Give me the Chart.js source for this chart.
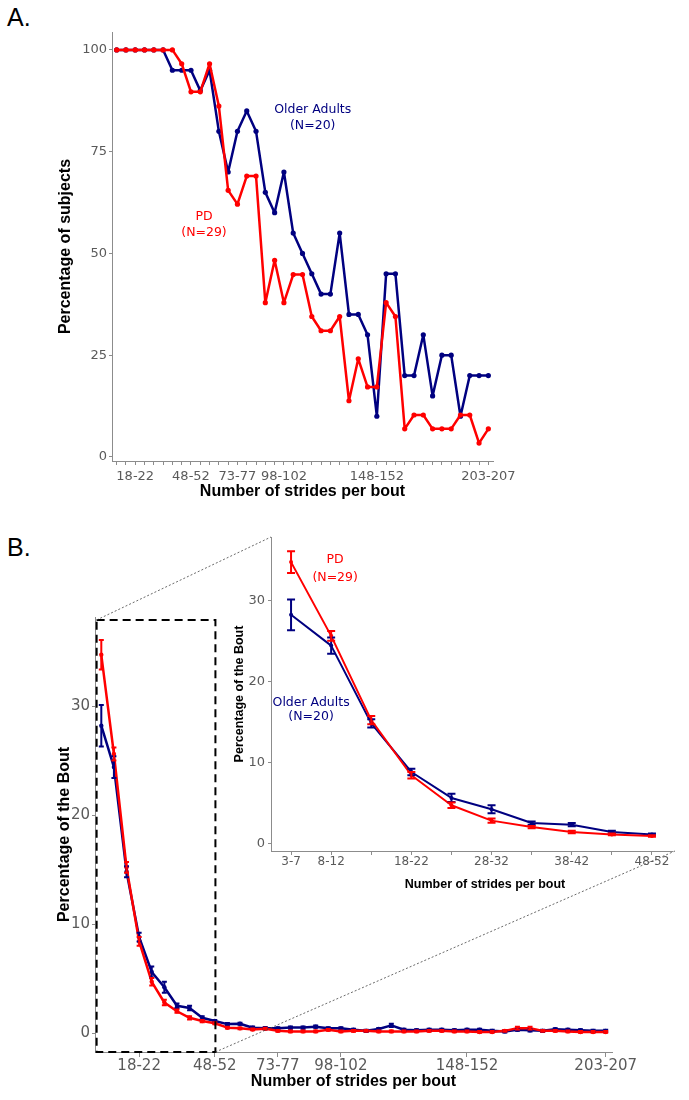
<!DOCTYPE html>
<html>
<head>
<meta charset="utf-8">
<script src="https://cdn.jsdelivr.net/npm/chart.js@4.4.0/dist/chart.umd.min.js"></script>
<style>
  body { margin: 0; background: #fff; }
  #page { position: relative; width: 689px; height: 1100px; overflow: hidden; }
  #page canvas, .panel { position: absolute; }
  .panel { font-family: "Liberation Sans", Arial, sans-serif; font-size: 25px; color: #000; }
</style>
</head>
<body>
<div id="page">
  <div class="panel" style="left:7px;top:3px">A.</div>
  <div class="panel" style="left:7px;top:533px">B.</div>
  <canvas id="chartA" width="689" height="520" style="left:0;top:0"></canvas>
  <canvas id="chartB" width="689" height="570" style="left:0;top:530px"></canvas>
  <canvas id="links" width="689" height="1100" style="left:0;top:0"></canvas>
  <canvas id="chartInset" width="509" height="380" style="left:180px;top:520px"></canvas>
</div>
<script>
// --- data ---
const bins = ['3-7','8-12','13-17','18-22','23-27','28-32','33-37','38-42','43-47','48-52',
  '53-57','58-62','63-67','68-72','73-77','78-82','83-87','88-92','93-97','98-102',
  '103-107','108-112','113-117','118-122','123-127','128-132','133-137','138-142','143-147','148-152',
  '153-157','158-162','163-167','168-172','173-177','178-182','183-187','188-192','193-197','198-202','203-207'];

// panel A: percentage of subjects
const olderA = [100,100,100,100,100,100,95,95,95,90,95,80,70,80,85,80,65,60,70,55,50,
  45,40,40,55,35,35,30,10,45,45,20,20,30,15,25,25,10,20,20,20];
const pdA = [100,100,100,100,100,100,100,96.6,89.7,89.7,96.6,86.2,65.5,62.1,69.0,69.0,37.9,48.3,37.9,44.8,44.8,
  34.5,31.0,31.0,34.5,13.8,24.1,17.2,17.2,37.9,34.5,6.9,10.3,10.3,6.9,6.9,6.9,10.3,10.3,3.4,6.9];
const ticksA = ['', '', '18-22', '', '', '', '', '', '48-52', '', '', '', '', '73-77', '', '', '', '',
  '98-102', '', '', '', '', '', '', '', '', '', '148-152', '', '', '', '', '', '', '', '', '', '', '', '203-207'];
const yTicksA = [0, 25, 50, 75, 100];

// panel B: percentage of the bout (mean and SE)
const olderB = [28.2,24.4,14.8,8.8,5.6,4.2,2.5,2.3,1.4,1.1,0.82,0.85,0.49,0.45,0.43,0.5,0.5,0.58,0.43,0.43,
  0.3,0.2,0.37,0.7,0.3,0.25,0.3,0.3,0.25,0.3,0.3,0.2,0.15,0.3,0.25,0.2,0.35,0.3,0.25,0.2,0.2];
const olderSE = [1.9,1.0,0.5,0.4,0.5,0.5,0.2,0.2,0.15,0.1,0.1,0.1,0.1,0.1,0.1,0.1,0.1,0.1,0.1,0.1,
  0.1,0.1,0.1,0.15,0.1,0.1,0.1,0.1,0.1,0.1,0.1,0.1,0.1,0.1,0.1,0.1,0.1,0.1,0.1,0.1,0.1];
const pdB = [34.7,25.6,15.2,8.4,4.7,2.8,2.0,1.4,1.1,0.9,0.49,0.43,0.33,0.4,0.2,0.15,0.15,0.15,0.3,0.15,
  0.2,0.2,0.15,0.15,0.15,0.15,0.2,0.2,0.15,0.15,0.1,0.1,0.2,0.45,0.45,0.2,0.2,0.15,0.1,0.1,0.1];
const pdSE = [1.35,0.6,0.5,0.4,0.35,0.25,0.15,0.15,0.1,0.1,0.08,0.08,0.08,0.08,0.08,0.08,0.08,0.08,0.08,0.08,
  0.08,0.08,0.08,0.08,0.08,0.08,0.08,0.08,0.08,0.08,0.08,0.08,0.08,0.12,0.12,0.08,0.08,0.08,0.08,0.08,0.08];
const ticksB = ['18-22','48-52','73-77','98-102','148-152','203-207'];
const yTicksB = [0, 10, 20, 30];
const insetCount = 10;   // inset zooms on 3-7 .. 48-52
const ticksInset = ['3-7','8-12','18-22','28-32','38-42','48-52'];

// --- styles ---
const navy = '#000080';
const red = '#ff0000';
const axisGrey = '#8c8c8c';
const tickGrey = '#5a5a5a';
const titleFamily = '"Liberation Sans", Arial, sans-serif';
Chart.defaults.font.family = '"DejaVu Sans", Verdana, sans-serif';
Chart.defaults.color = tickGrey;

// error bars drawn from dataset.errors through the y scale
const errorBars = {
  id: 'errorBars',
  afterDatasetsDraw(chart, args, opts) {
    const ctx = chart.ctx, y = chart.scales.y;
    for (let di = chart.data.datasets.length - 1; di >= 0; di--) {
      const ds = chart.data.datasets[di];
      if (!ds.errors) continue;
      const meta = chart.getDatasetMeta(di);
      ctx.save();
      ctx.strokeStyle = ds.borderColor;
      ctx.lineWidth = opts.width || 2;
      meta.data.forEach((pt, i) => {
        const top = y.getPixelForValue(ds.data[i] + ds.errors[i]);
        const bot = y.getPixelForValue(ds.data[i] - ds.errors[i]);
        ctx.beginPath();
        ctx.moveTo(pt.x, top); ctx.lineTo(pt.x, bot);
        ctx.moveTo(pt.x - opts.cap, top); ctx.lineTo(pt.x + opts.cap, top);
        ctx.moveTo(pt.x - opts.cap, bot); ctx.lineTo(pt.x + opts.cap, bot);
        ctx.stroke();
      });
      ctx.restore();
    }
  }
};

// group labels placed in data coordinates, plus optional free texts
const notes = {
  id: 'notes',
  afterDraw(chart, args, opts) {
    const ctx = chart.ctx;
    ctx.save();
    ctx.textAlign = 'center';
    ctx.textBaseline = 'middle';
    (opts.items || []).forEach(n => {
      ctx.fillStyle = n.color;
      ctx.font = n.font || opts.font;
      const x = n.px !== undefined ? n.px : chart.scales.x.getPixelForValue(n.x);
      const y = n.py !== undefined ? n.py : chart.scales.y.getPixelForValue(n.y);
      ctx.fillText(n.text, x, y);
    });
    ctx.restore();
  }
};

function lineSet(label, data, color, width, radius, errors) {
  return {
    label: label, data: data, errors: errors,
    borderColor: color, backgroundColor: color,
    borderWidth: width, borderJoinStyle: 'round', borderCapStyle: 'round',
    pointRadius: radius, pointBorderWidth: 0,
    pointHoverRadius: radius, tension: 0
  };
}

function xAxis(o) {
  return {
    type: 'category', offset: true,
    grid: { display: true, drawOnChartArea: false, drawTicks: true, tickLength: o.tickLength,
            offset: false, color: axisGrey, tickColor: o.tickColor || axisGrey },
    border: { display: true, color: axisGrey, width: 1 },
    ticks: { autoSkip: false, maxRotation: 0, minRotation: 0, padding: o.padding,
             color: tickGrey, font: { size: o.size }, callback: o.callback },
    title: o.title ? { display: true, text: 'Number of strides per bout', color: '#000',
             font: { family: titleFamily, size: o.titleSize, weight: 'bold' },
             padding: { top: 0, bottom: o.titlePad } } : { display: false },
    afterFit: s => { s.height = o.height; }
  };
}

function yAxis(o) {
  return {
    min: o.min, max: o.max,
    grid: { drawOnChartArea: false, drawTicks: true, tickLength: 3, color: axisGrey },
    border: { display: true, color: axisGrey, width: 1 },
    ticks: { padding: o.padding, color: tickGrey, font: { size: o.size } },
    afterBuildTicks: s => { s.ticks = o.ticks.map(v => ({ value: v })); },
    title: { display: true, text: o.text, color: '#000',
             font: { family: titleFamily, size: o.titleSize, weight: 'bold' },
             padding: { top: o.titlePad, bottom: 0 } },
    afterFit: s => { s.width = o.width; }
  };
}

// --- panel A ---
const chartA = new Chart(document.getElementById('chartA'), {
  type: 'line',
  data: {
    labels: bins,
    datasets: [
      lineSet('PD', pdA, red, 2.5, 2.6),
      lineSet('Older Adults', olderA, navy, 2.5, 2.6)
    ]
  },
  options: {
    responsive: false, animation: false,
    layout: { padding: { left: 0, top: 32, right: 196, bottom: 0 } },
    plugins: {
      legend: { display: false }, tooltip: { enabled: false },
      notes: {
        font: '12.5px "DejaVu Sans", Verdana, sans-serif',
        items: [
          { text: 'Older Adults', color: navy, x: 21.1, y: 85.4 },
          { text: '(N=20)', color: navy, x: 21.1, y: 81.3 },
          { text: 'PD', color: red, x: 9.4, y: 59.0 },
          { text: '(N=29)', color: red, x: 9.4, y: 55.0 }
        ]
      }
    },
    scales: {
      x: xAxis({ tickLength: 4, padding: 4, size: 13, callback: (v, i) => ticksA[i],
                 title: true, titleSize: 16, titlePad: 19, height: 59 }),
      y: yAxis({ min: -1, max: 104.4, ticks: yTicksA, padding: 2, size: 13,
                 text: 'Percentage of subjects', titleSize: 16, titlePad: 56.4, width: 112 })
    }
  },
  plugins: [notes]
});

// --- panel B, full range ---
const chartB = new Chart(document.getElementById('chartB'), {
  type: 'line',
  data: {
    labels: bins,
    datasets: [
      lineSet('PD', pdB, red, 2.5, 2.2, pdSE),
      lineSet('Older Adults', olderB, navy, 2.5, 2.2, olderSE)
    ]
  },
  options: {
    responsive: false, animation: false,
    layout: { padding: { left: 0, top: 87, right: 77, bottom: 0 } },
    plugins: { legend: { display: false }, tooltip: { enabled: false }, errorBars: { cap: 2.5, width: 2 } },
    scales: {
      x: xAxis({ tickLength: 5, padding: 0, size: 15,
                 tickColor: ctx => ticksB.includes(bins[ctx.index]) ? axisGrey : 'rgba(0,0,0,0)',
                 callback: (v, i) => ticksB.includes(bins[i]) ? bins[i] : '',
                 title: true, titleSize: 16, titlePad: 8.4, height: 48 }),
      y: yAxis({ min: -1.74, max: 38.17, ticks: yTicksB, padding: 2, size: 15,
                 text: 'Percentage of the Bout', titleSize: 16, titlePad: 55.4, width: 95 })
    }
  },
  plugins: [errorBars]
});

// --- panel B, inset ---
const chartInset = new Chart(document.getElementById('chartInset'), {
  type: 'line',
  data: {
    labels: bins.slice(0, insetCount),
    datasets: [
      lineSet('PD', pdB.slice(0, insetCount), red, 2, 2, pdSE.slice(0, insetCount)),
      lineSet('Older Adults', olderB.slice(0, insetCount), navy, 2, 2, olderSE.slice(0, insetCount))
    ]
  },
  options: {
    responsive: false, animation: false,
    layout: { padding: { left: 0, top: 17, right: 17, bottom: 0 } },
    plugins: {
      legend: { display: false }, tooltip: { enabled: false },
      errorBars: { cap: 4, width: 2 },
      notes: {
        font: '12.5px "DejaVu Sans", Verdana, sans-serif',
        items: [
          { text: 'PD', color: red, x: 1.1, y: 35.0 },
          { text: '(N=29)', color: red, x: 1.1, y: 32.8 },
          { text: 'Older Adults', color: navy, x: 0.5, y: 17.4 },
          { text: '(N=20)', color: navy, x: 0.5, y: 15.6 },
          { text: 'Number of strides per bout', color: '#000', px: 305, py: 365,
            font: 'bold 12.5px "Liberation Sans", Arial, sans-serif' }
        ]
      }
    },
    scales: {
      x: xAxis({ tickLength: 4, padding: 0, size: 12,
                 callback: (v, i) => ticksInset.includes(bins[i]) ? bins[i] : '',
                 title: false, height: 49 }),
      y: yAxis({ min: -0.95, max: 37.8, ticks: yTicksB, padding: 3, size: 13,
                 text: 'Percentage of the Bout', titleSize: 12.5, titlePad: 52.5, width: 91 })
    }
  },
  plugins: [errorBars, notes]
});

// --- zoom box and connector lines ---
function drawLinks() {
  const ctx = document.getElementById('links').getContext('2d');
  const bx = chartB.scales.x, by = chartB.scales.y;
  const topB = 530, insetLeft = 180, insetTop = 520;
  const step = bx.getPixelForValue(1) - bx.getPixelForValue(0);
  const left = bx.getPixelForValue(0) - 0.37 * step;
  const right = bx.getPixelForValue(insetCount - 1) + 0.05 * step;
  const top = by.getPixelForValue(37.9) + topB;
  const bottom = chartB.chartArea.bottom + topB;
  const ia = chartInset.chartArea;

  ctx.save();
  ctx.strokeStyle = '#000';
  ctx.lineWidth = 2;
  ctx.setLineDash([8, 5]);
  ctx.strokeRect(left, top, right - left, bottom - top);

  ctx.strokeStyle = '#444';
  ctx.lineWidth = 0.8;
  ctx.setLineDash([2, 2]);
  ctx.beginPath();
  ctx.moveTo(left, top);
  ctx.lineTo(ia.left + insetLeft, ia.top + insetTop);
  ctx.moveTo(right, bottom);
  ctx.lineTo(ia.right + insetLeft + 3, ia.bottom + insetTop);
  ctx.stroke();
  ctx.restore();
}
drawLinks();
</script>
</body>
</html>
